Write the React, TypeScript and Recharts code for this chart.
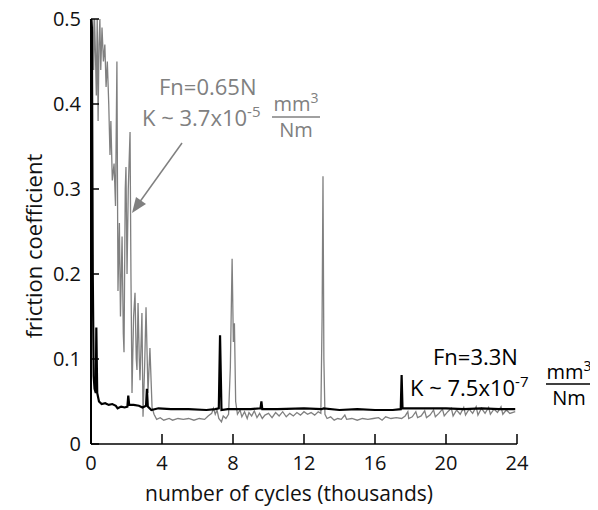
import React from "react";
import { LineChart, Line, XAxis, YAxis } from "recharts";

// Fn = 0.65 N (gray) trace: cycles (thousands) and friction coefficient
const grayX = [0.02,0.05,0.1,0.15,0.2,0.25,0.3,0.35,0.4,0.45,0.5,0.55,0.62,0.7,0.78,0.85,0.92,1.0,1.07,1.12,1.2,1.3,1.38,1.46,1.52,1.6,1.66,1.75,1.82,1.86,1.93,1.97,2.03,2.1,2.2,2.25,2.31,2.4,2.48,2.55,2.59,2.65,2.72,2.76,2.87,2.93,3.02,3.1,3.21,3.32,3.44,3.55,3.7,3.9,4.1,4.4,4.6,4.9,5.2,5.5,5.8,6.1,6.4,6.6,6.8,6.9,7.0,7.1,7.2,7.35,7.45,7.6,7.75,7.85,7.95,8.02,8.08,8.15,8.25,8.4,8.5,8.65,8.8,8.9,9.05,9.2,9.35,9.5,9.65,9.8,10.0,10.2,10.4,10.6,10.8,11.0,11.2,11.4,11.6,11.8,12.0,12.2,12.4,12.6,12.8,12.95,13.02,13.07,13.12,13.18,13.3,13.5,13.7,13.9,14.1,14.3,14.4,14.7,15.0,15.3,15.6,15.9,16.2,16.4,16.6,16.9,17.2,17.5,17.7,17.85,17.9,18.1,18.3,18.4,18.6,18.8,18.9,19.1,19.3,19.4,19.6,19.8,19.9,20.1,20.3,20.4,20.6,20.8,21.0,21.1,21.3,21.5,21.7,21.8,22.0,22.2,22.4,22.5,22.7,22.9,23.1,23.2,23.4,23.6,23.9];
const grayY = [0.45,0.47,0.5,0.44,0.5,0.46,0.41,0.5,0.38,0.47,0.5,0.44,0.49,0.45,0.47,0.42,0.45,0.4,0.34,0.38,0.31,0.33,0.28,0.45,0.18,0.26,0.15,0.244,0.13,0.108,0.3,0.326,0.2,0.3,0.367,0.2,0.06,0.15,0.178,0.1,0.087,0.166,0.1,0.075,0.154,0.032,0.09,0.161,0.06,0.113,0.043,0.035,0.029,0.031,0.028,0.03,0.028,0.03,0.029,0.03,0.028,0.03,0.029,0.033,0.036,0.042,0.035,0.04,0.03,0.026,0.033,0.03,0.035,0.09,0.218,0.12,0.142,0.05,0.035,0.04,0.032,0.038,0.03,0.037,0.033,0.039,0.031,0.036,0.03,0.034,0.036,0.031,0.037,0.033,0.038,0.032,0.036,0.033,0.037,0.034,0.038,0.035,0.037,0.034,0.038,0.036,0.15,0.315,0.1,0.035,0.03,0.032,0.028,0.03,0.029,0.034,0.029,0.03,0.028,0.03,0.029,0.03,0.031,0.028,0.032,0.03,0.031,0.03,0.033,0.038,0.03,0.032,0.038,0.031,0.033,0.039,0.031,0.034,0.04,0.032,0.036,0.041,0.033,0.038,0.042,0.033,0.04,0.035,0.043,0.034,0.041,0.036,0.044,0.034,0.042,0.036,0.043,0.035,0.041,0.037,0.044,0.035,0.04,0.036,0.038];

// Fn = 3.3 N (black) trace
const blackX = [0,0.05,0.1,0.15,0.2,0.27,0.3,0.35,0.45,0.6,0.8,1.0,1.2,1.4,1.5,1.7,1.9,2.05,2.1,2.15,2.4,2.7,2.9,3.1,3.15,3.2,3.4,3.8,4.5,5.5,6.5,7.0,7.2,7.27,7.35,7.7,8.0,9.0,9.55,9.6,9.65,10.5,12.0,13.0,13.1,14.0,15.0,16.0,17.0,17.45,17.5,17.55,18.5,20.0,21.0,22.0,23.0,23.9];
const blackY = [0.5,0.49,0.2,0.08,0.065,0.06,0.137,0.06,0.05,0.047,0.048,0.046,0.047,0.045,0.042,0.044,0.043,0.044,0.057,0.046,0.046,0.045,0.043,0.045,0.065,0.044,0.04,0.042,0.041,0.041,0.04,0.041,0.042,0.128,0.04,0.041,0.041,0.041,0.042,0.05,0.041,0.041,0.042,0.041,0.042,0.04,0.041,0.04,0.04,0.041,0.081,0.042,0.042,0.042,0.041,0.042,0.041,0.041];

const xTicks = [0, 4, 8, 12, 16, 20, 24];
const yTicks = [0, 0.1, 0.2, 0.3, 0.4, 0.5];
const yTickLabels = ["0", "0.1", "0.2", "0.3", "0.4", "0.5"];

const grayData = grayX.map((x, i) => ({ x, y: grayY[i] }));
const blackData = blackX.map((x, i) => ({ x, y: blackY[i] }));

const FONT = "'Open Sans', sans-serif";
const GRAY = "#808080";

const XTick = (props: any) => {
  const { x, y, payload } = props;
  return (
    <g>
      <line x1={x} y1={y} x2={x} y2={y - 10} stroke="#000" strokeWidth={1.5} />
      <text x={x} y={y + 26} textAnchor="middle" fontFamily={FONT} fontSize={20} fill="#111">
        {payload.value}
      </text>
    </g>
  );
};

const YTick = (props: any) => {
  const { x, y, payload } = props;
  const idx = yTicks.indexOf(payload.value);
  return (
    <g>
      <line x1={x} y1={y} x2={x + 8} y2={y} stroke="#000" strokeWidth={1.5} />
      <text x={x - 10} y={y + 7} textAnchor="end" fontFamily={FONT} fontSize={20} fill="#111">
        {idx >= 0 ? yTickLabels[idx] : payload.value}
      </text>
    </g>
  );
};

export default function App() {
  return (
    <div style={{ position: "relative", width: 590, height: 502 }}>
      <LineChart width={590} height={502} margin={{ top: 11, right: 81, bottom: 0, left: 0 }}>
        <XAxis
          dataKey="x"
          type="number"
          domain={[0, 24]}
          ticks={xTicks}
          tickSize={0}
          tickMargin={0}
          tickLine={false}
          tick={<XTick />}
          axisLine={{ stroke: "#000", strokeWidth: 1.5 }}
          height={66}
          allowDuplicatedCategory={false}
        />
        <YAxis
          type="number"
          domain={[0, 0.5]}
          ticks={yTicks}
          tickSize={0}
          tickMargin={0}
          tickLine={false}
          tick={<YTick />}
          axisLine={{ stroke: "#000", strokeWidth: 2 }}
          width={83}
          allowDataOverflow
        />
        <Line data={grayData} dataKey="y" stroke={GRAY} strokeWidth={1.3} dot={false} isAnimationActive={false} />
        <Line data={blackData} dataKey="y" stroke="#000" strokeWidth={2.2} dot={false} isAnimationActive={false} />
      </LineChart>
      <svg
        width={590}
        height={502}
        style={{ position: "absolute", left: 0, top: 0, pointerEvents: "none" }}
        fontFamily={FONT}
      >
        {/* axis titles */}
        <text x={281} y={493} textAnchor="middle" fontSize={21} fill="#111">
          number of cycles (thousands)
        </text>
        <text transform="translate(34,238) rotate(-90)" textAnchor="middle" fontSize={22} fill="#111">
          friction coefficient
        </text>

        {/* gray annotation */}
        <g fill={GRAY}>
          <text x={151} y={87} fontSize={22}>Fn=0.65N</text>
          <text x={134} y={118} fontSize={22}>
            K ~ 3.7x10<tspan dy={-9} fontSize={15}>-5</tspan>
          </text>
          <text x={288} y={103} fontSize={20} textAnchor="middle">
            mm<tspan dy={-8} fontSize={14}>3</tspan>
          </text>
          <line x1={264} y1={109} x2={312} y2={109} stroke={GRAY} strokeWidth={1.3} />
          <text x={288} y={129} fontSize={20} textAnchor="middle">Nm</text>
        </g>
        <line x1={174} y1={135} x2={131} y2={195} stroke={GRAY} strokeWidth={1.5} />
        <polygon points="124,205 128,189 138,196" fill={GRAY} />

        {/* black annotation */}
        <g fill="#000">
          <text x={425} y={357} fontSize={22}>Fn=3.3N</text>
          <text x={402} y={388} fontSize={22}>
            K ~ 7.5x10<tspan dy={-9} fontSize={15}>-7</tspan>
          </text>
          <text x={561} y={371} fontSize={20} textAnchor="middle">
            mm<tspan dy={-8} fontSize={14}>3</tspan>
          </text>
          <line x1={538} y1={376} x2={584} y2={376} stroke="#000" strokeWidth={1.3} />
          <text x={561} y={397} fontSize={20} textAnchor="middle">Nm</text>
        </g>
      </svg>
    </div>
  );
}
